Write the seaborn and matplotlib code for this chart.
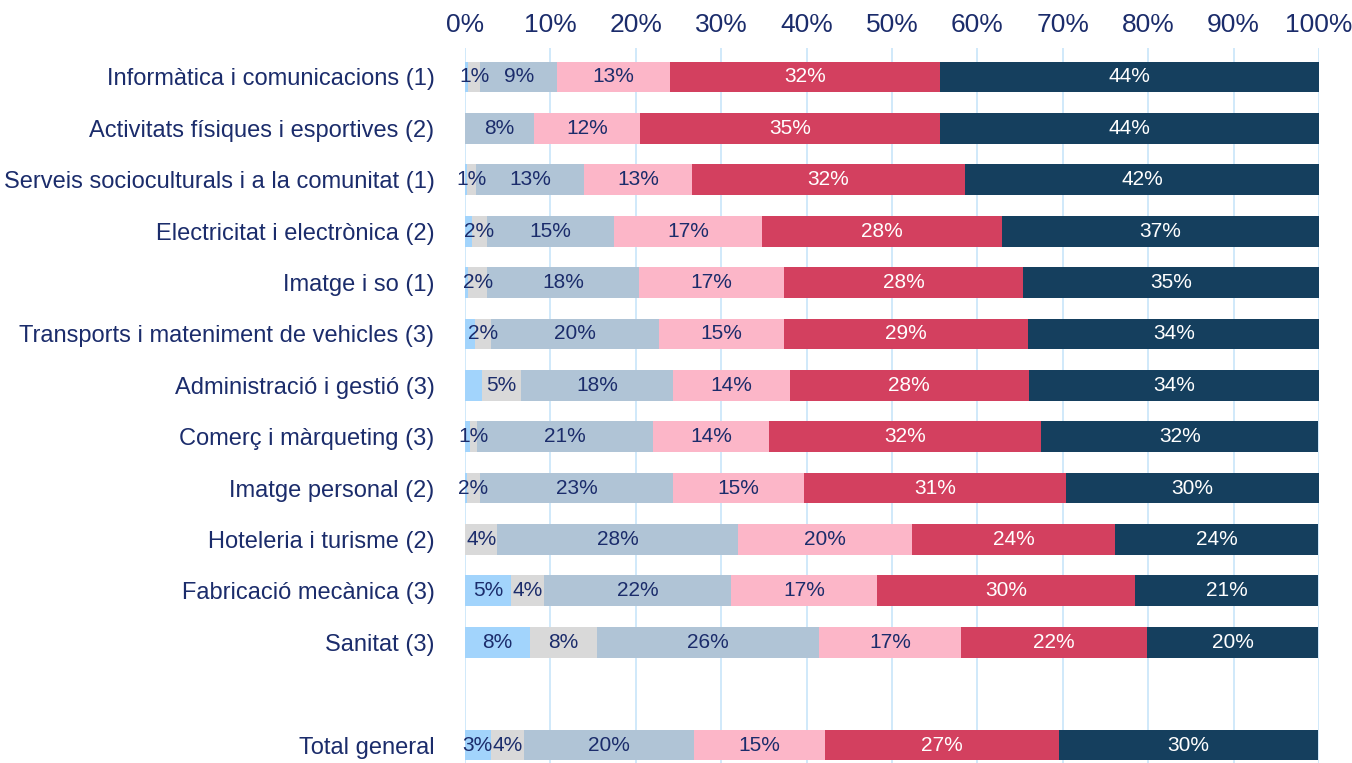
import pandas as pd
import matplotlib.pyplot as plt
from matplotlib import font_manager
import seaborn as sns

# Data (percent of students per family)
families = [
    'Informàtica i comunicacions (1)',
    'Activitats físiques i esportives (2)',
    'Serveis socioculturals i a la comunitat (1)',
    'Electricitat i electrònica (2)',
    'Imatge i so (1)',
    'Transports i mateniment de vehicles (3)',
    'Administració i gestió (3)',
    'Comerç i màrqueting (3)',
    'Imatge personal (2)',
    'Hoteleria i turisme (2)',
    'Fabricació mecànica (3)',
    'Sanitat (3)',
    'Total general',
]
light_blue = [0.4, 0.0, 0.2, 0.8, 0.4, 1.2, 2.0, 0.6, 0.2, 0.0, 5.4, 7.6, 3.0]
grey = [1.4, 0.0, 1.1, 1.8, 2.2, 1.9, 4.6, 0.8, 1.6, 3.8, 3.9, 7.8, 3.9]
blue_grey = [9.0, 8.1, 12.6, 14.8, 17.8, 19.6, 17.7, 20.6, 22.6, 28.2, 21.9, 26.1, 19.9]
pink = [13.2, 12.4, 12.7, 17.4, 17.0, 14.6, 13.7, 13.6, 15.3, 20.4, 17.1, 16.6, 15.3]
red = [31.6, 35.1, 31.9, 28.1, 27.9, 28.6, 28.0, 31.9, 30.7, 23.7, 30.2, 21.8, 27.4]
navy = [44.4, 44.4, 41.7, 37.1, 34.8, 34.2, 34.1, 32.4, 29.6, 23.8, 21.4, 20.0, 30.4]

series = [light_blue, grey, blue_grey, pink, red, navy]
colors = ['#A2D4FC', '#D9D9D9', '#B0C4D6', '#FCB6C8', '#D3405F', '#153F5E']
text_colors = ['#1B2C6B'] * 4 + ['white', 'white']
min_label = [2.5, 0.5, 0.5, 0.5, 0.5, 0.5]

order = families[:-1] + [' ', families[-1]]

available = {f.name for f in font_manager.fontManager.ttflist}
narrow = 'Liberation Sans Narrow' if 'Liberation Sans Narrow' in available else 'Liberation Sans'

sns.set_style('white')
plt.rcParams['font.family'] = ['Liberation Sans', 'DejaVu Sans']

fig = plt.figure(figsize=(13.52, 7.63), dpi=100)
ax = fig.add_axes([465 / 1352, 0.0, 854 / 1352, 1 - 48 / 763])

df = pd.DataFrame({'family': families})
cum = [0.0] * len(families)
cums = []
for s in series:
    cum = [c + v for c, v in zip(cum, s)]
    cums.append(cum)

# draw cumulative bars from the outermost inwards so they look stacked
for i in range(len(series) - 1, -1, -1):
    df['value'] = cums[i]
    sns.barplot(data=df, x='value', y='family', order=order, orient='h',
                color=colors[i], saturation=1, width=0.6, linewidth=0, ax=ax)

# segment labels
pos = {name: order.index(name) for name in families}
for i, s in enumerate(series):
    for j, v in enumerate(s):
        if v >= min_label[i]:
            center = cums[i][j] - v / 2
            ax.text(center, pos[families[j]], f'{v:.0f}%', ha='center', va='center',
                    fontsize=15, color=text_colors[i])

ax.set_xlim(0, 100)
ax.set_ylim(13.35, -0.564)
ax.set_xticks(range(0, 101, 10))
ax.set_xticklabels([f'{t}%' for t in range(0, 101, 10)], fontsize=19,
                   family=narrow, color='#1B2C6B')
ax.xaxis.tick_top()
ax.tick_params(axis='x', length=0, pad=8)
ax.tick_params(axis='y', length=0, pad=22, labelsize=17, labelcolor='#1B2C6B')
ax.set_xlabel('')
ax.set_ylabel('')
ax.grid(axis='x', color='#C8E5FA', linewidth=1.2)
ax.grid(axis='y', visible=False)
ax.set_axisbelow(True)
for sp in ax.spines.values():
    sp.set_visible(False)

fig.savefig('out.png', dpi=100)
plt.close(fig)
